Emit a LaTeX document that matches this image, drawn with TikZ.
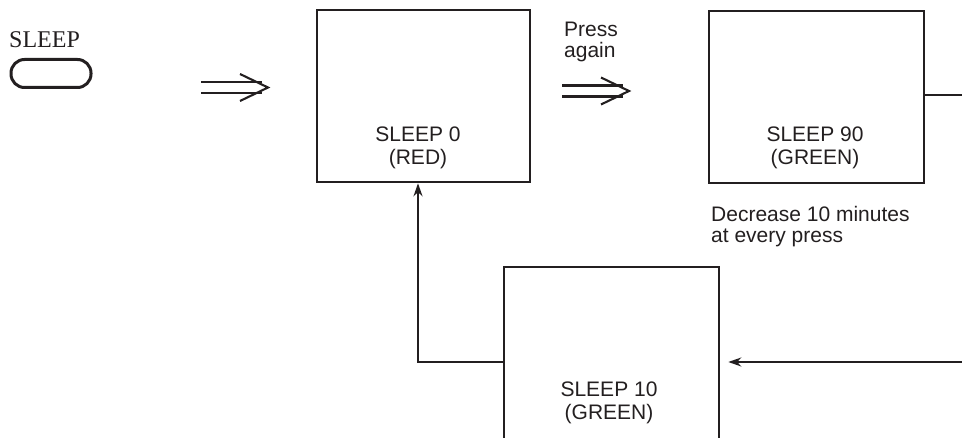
\documentclass[tikz,border=0pt]{standalone}
\usepackage{fontspec}
\setmainfont{Liberation Serif}
\newfontfamily\arialfont{Liberation Sans}
\usetikzlibrary{arrows.meta}
\definecolor{ink}{RGB}{35,31,32}
\begin{document}
\begin{tikzpicture}[x=1pt,y=-1pt,
  box/.style={draw=ink,line width=2.6pt,rectangle,inner sep=0pt},
  lbl/.style={text=ink,font=\arialfont\fontsize{21}{24}\selectfont,anchor=base,inner sep=0pt},
  conn/.style={draw=ink,line width=2.4pt},
  dbl/.style={draw=ink,line width=2.1pt},
  tip/.style={-{Stealth[length=13pt,width=9pt]}}]
\useasboundingbox (0,0) rectangle (962,438);
% button
\node[text=ink,font=\fontsize{24}{26}\selectfont,anchor=base west,inner sep=0pt] (sleeptxt) at (9,48) {SLEEP};
\node[draw=ink,line width=3pt,rectangle,rounded corners=13.5pt,minimum width=80pt,minimum height=28pt,inner sep=0pt] (btn) at (51,73.5) {};
% boxes
\node[box,minimum width=213pt,minimum height=172pt] (box1) at (423.5,96) {};
\node[box,minimum width=215pt,minimum height=172pt] (box2) at (816.5,97) {};
\node[box,minimum width=215pt,minimum height=180pt] (box3) at (611.5,357) {};
% labels
\node[lbl] (l1a) at (418,142) {SLEEP 0};
\node[lbl] (l1b) at (418,165) {(RED)};
\node[lbl] (l2a) at (815,142) {SLEEP 90};
\node[lbl] (l2b) at (815,165) {(GREEN)};
\node[lbl] (l3a) at (609,397) {SLEEP 10};
\node[lbl] (l3b) at (609,420) {(GREEN)};
\node[lbl,anchor=base west] (pa) at (564,37) {Press};
\node[lbl,anchor=base west] (pb) at (564,58) {again};
\node[lbl,anchor=base west] (da) at (711,222) {Decrease 10 minutes};
\node[lbl,anchor=base west] (db) at (711,243) {at every press};
% double arrows
\coordinate (d1) at (201,87.5);
\coordinate (d2) at (562,91);
\foreach \c in {d1,d2}{
  \draw[dbl] ([yshift=-5.5pt]\c) -- ++(61,0);
  \draw[dbl] ([yshift=5.5pt]\c) -- ++(61,0);
  \draw[dbl,line join=miter] ([xshift=39pt,yshift=-13.5pt]\c) -- ([xshift=67pt]\c) -- ([xshift=39pt,yshift=13.5pt]\c);
}
% connectors
\coordinate (r1) at (962,95);
\coordinate (r2) at (962,362);
\draw[conn] (box2.east |- r1) -- (r1);
\draw[conn,tip] (r2) -- ([xshift=8pt]box3.east |- r2);
\draw[conn,tip] (box3.west |- r2) -| ([xshift=-5.5pt]box1.south);
\end{tikzpicture}
\end{document}
